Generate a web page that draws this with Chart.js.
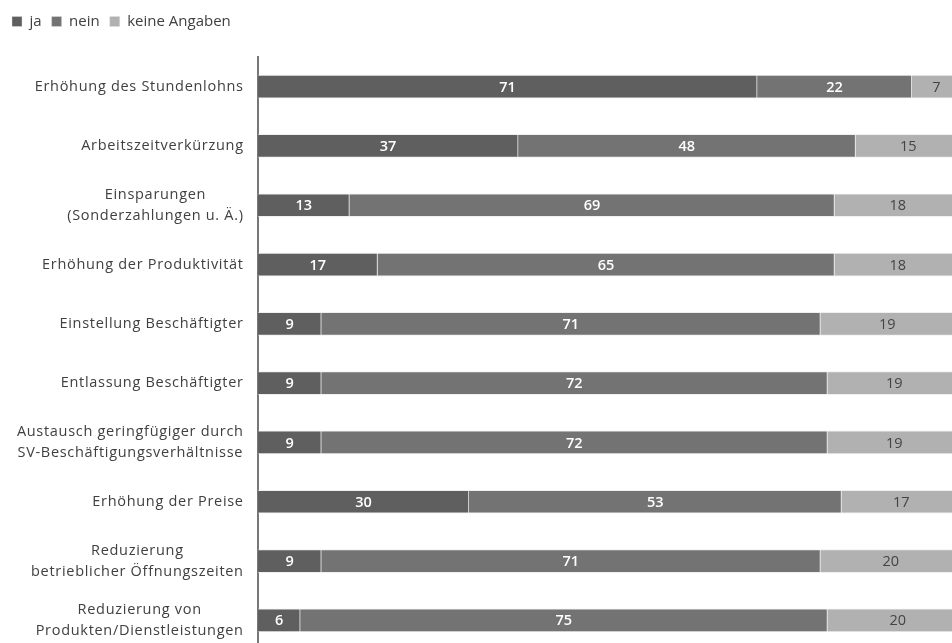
<!DOCTYPE html>
<html lang="de">
<head>
<meta charset="utf-8">
<script src="https://cdn.jsdelivr.net/npm/chart.js@4/dist/chart.umd.min.js"></script>
<style>
  html, body { margin: 0; padding: 0; background: #fff; overflow: hidden; }
  #wrap { position: absolute; left: 0; top: 0; width: 961px; height: 650px; }
</style>
</head>
<body>
<div id="wrap"><canvas id="chart"></canvas></div>
<script>
// Kategorien (mehrzeilige Beschriftungen als Arrays)
const categories = [
  'Erhöhung des Stundenlohns',
  'Arbeitszeitverkürzung',
  ['Einsparungen', '(Sonderzahlungen u. Ä.)'],
  'Erhöhung der Produktivität',
  'Einstellung Beschäftigter',
  'Entlassung Beschäftigter',
  ['Austausch geringfügiger durch', 'SV-Beschäftigungsverhältnisse'],
  'Erhöhung der Preise',
  ['Reduzierung', 'betrieblicher Öffnungszeiten'],
  ['Reduzierung von', 'Produkten/Dienstleistungen']
];

// Anteile in Prozent
const ja           = [71, 37, 13, 17, 9, 9, 9, 30, 9, 6];
const nein         = [22, 48, 69, 65, 71, 72, 72, 53, 71, 75];
const keineAngaben = [7, 15, 18, 18, 19, 19, 19, 17, 20, 20];

const seriesNames = ['ja', 'nein', 'keine Angaben'];

const FONT = '"Open Sans", "Noto Sans", sans-serif';
const TEXT = '#404040';

// Beschriftung der Kategorien: rechtsbündiger Block, Zeilen zentriert
const categoryLabels = {
  id: 'categoryLabels',
  afterDraw(chart) {
    const ctx = chart.ctx;
    const y = chart.scales.y;
    const rightEdge = chart.chartArea.left - 15;
    const lh = 21;
    const spacing = 0.7;
    ctx.save();
    ctx.font = '14.5px ' + FONT;
    ctx.letterSpacing = spacing + 'px';
    ctx.fillStyle = TEXT;
    ctx.textAlign = 'center';
    ctx.textBaseline = 'middle';
    categories.forEach((c, i) => {
      const lines = Array.isArray(c) ? c : [c];
      const widths = lines.map(l => ctx.measureText(l).width - spacing);
      const w = Math.max(...widths);
      const cx = rightEdge - w / 2;
      const cy = y.getPixelForValue(i);
      lines.forEach((l, k) => {
        ctx.fillText(l, cx + spacing / 2, cy + (k - (lines.length - 1) / 2) * lh);
      });
    });
    ctx.restore();
  }
};

// Werte in den Balkensegmenten
const valueLabels = {
  id: 'valueLabels',
  afterDatasetsDraw(chart) {
    const ctx = chart.ctx;
    ctx.save();
    ctx.textAlign = 'center';
    ctx.textBaseline = 'middle';
    chart.data.datasets.forEach((ds, di) => {
      const meta = chart.getDatasetMeta(di);
      ctx.font = (di < 2 ? '600 ' : '') + '14.5px ' + FONT;
      ctx.fillStyle = di < 2 ? '#ffffff' : '#444444';
      meta.data.forEach((bar, i) => {
        const cx = (bar.x + bar.base) / 2;
        ctx.fillText(String(ds.data[i]), cx, bar.y + 1);
      });
    });
    ctx.restore();
  }
};

// Abstand zwischen Legende und Diagrammfläche
const legendSpacing = {
  id: 'legendSpacing',
  beforeInit(chart) {
    const fit = chart.legend.fit;
    chart.legend.fit = function () {
      fit.call(this);
      this.height = 53;
    };
  }
};

const colors = ['#5f5f5f', '#737373', '#b1b1b1'];
const barStyle = c => ({
  backgroundColor: c,
  borderColor: 'rgba(225,225,225,0.55)',
  borderWidth: { top: 1, bottom: 1, right: 1, left: 0 },
  borderSkipped: false,
  barThickness: 23
});

new Chart(document.getElementById('chart'), {
  type: 'bar',
  data: {
    labels: categories,
    datasets: [
      { label: seriesNames[0], data: ja, ...barStyle(colors[0]) },
      { label: seriesNames[1], data: nein, ...barStyle(colors[1]) },
      { label: seriesNames[2], data: keineAngaben, ...barStyle(colors[2]) }
    ]
  },
  options: {
    indexAxis: 'y',
    responsive: true,
    maintainAspectRatio: false,
    animation: false,
    layout: { padding: { top: 4, left: 2, right: 0, bottom: 0 } },
    plugins: {
      tooltip: { enabled: false },
      legend: {
        position: 'top',
        align: 'start',
        labels: {
          boxWidth: 10,
          boxHeight: 10,
          padding: 10,
          color: TEXT,
          font: { family: FONT, size: 15 }
        }
      }
    },
    scales: {
      x: {
        stacked: true,
        min: 0,
        max: 100,
        display: false
      },
      y: {
        stacked: true,
        grid: { display: false },
        border: { display: true, color: '#777777', width: 2 },
        ticks: { display: false },
        afterFit(scale) { scale.width = 256; }
      }
    }
  },
  plugins: [legendSpacing, categoryLabels, valueLabels]
});
</script>
</body>
</html>
